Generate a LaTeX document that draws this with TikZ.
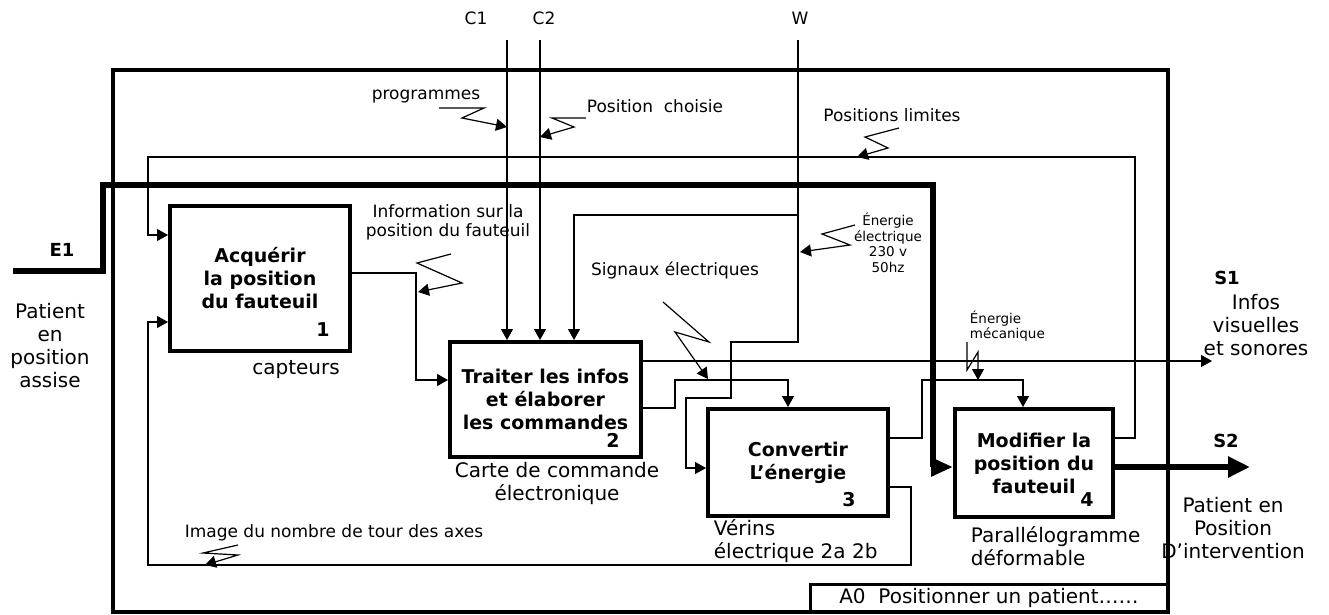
\documentclass[tikz,border=0pt]{standalone}
\usepackage{fontspec}
\setmainfont{DejaVu Sans}
\usetikzlibrary{arrows.meta}

\begin{document}
\begin{tikzpicture}[x=1pt, y=-1pt, line width=1.2pt, >={Triangle[length=11pt, width=12pt]},
    funcbox/.style={draw, line width=4pt, align=center, inner sep=0pt, font=\bfseries\fontsize{19}{23}\selectfont},
    txt/.style={font=\fontsize{17}{21}\selectfont, align=center},
    bigtxt/.style={font=\fontsize{20}{23}\selectfont, align=center},
    smalltxt/.style={font=\fontsize{13.5}{15.5}\selectfont, align=center},
    numtxt/.style={font=\bfseries\fontsize{19}{23}\selectfont},
    iotxt/.style={font=\bfseries\fontsize{18}{22}\selectfont}]

    \useasboundingbox (0,0) rectangle (1329,615);

    % --- cadre A0 ---
    \draw[line width=4pt] (113,70) rectangle (1168,612);
    \node[draw, line width=3pt, minimum width=358pt, minimum height=28pt, inner sep=0pt,
          font=\fontsize{20}{22}\selectfont] (a0) at (989,598) {A0\ \ Positionner un patient……};

    % --- fonctions ---
    \node[funcbox, minimum width=180pt, minimum height=145pt] (b1) at (260,278.5) {Acquérir\\la position\\du fauteuil};
    \node[funcbox, minimum width=191pt, minimum height=115pt] (b2) at (545.5,399.5) {Traiter les infos\\et élaborer\\les commandes};
    \node[funcbox, minimum width=180pt, minimum height=107pt] (b3) at (798,462.5) {Convertir\\L’énergie};
    \node[funcbox, minimum width=158pt, minimum height=108pt] (b4) at (1034,463) {Modifier la\\position du\\fauteuil};

    \node[numtxt] (n1) at (323,330) {1};
    \node[numtxt] (n2) at (613,440) {2};
    \node[numtxt] (n3) at (849,500) {3};
    \node[numtxt] (n4) at (1087,500) {4};

    % supports
    \node[bigtxt] (b1lab) at (296,370) {capteurs};
    \node[bigtxt] (b2lab) at (557,483) {Carte de commande\\électronique};
    \node[bigtxt, align=left, anchor=west] (b3lab) at (710,541) {Vérins\\électrique 2a 2b};
    \node[bigtxt, align=left, anchor=west] (b4lab) at (967,546) {Parallélogramme\\déformable};

    % --- entrée E1 (matière d'oeuvre) ---
    \coordinate (e1) at (13,271);
    \draw[line width=6pt, -{Triangle[length=22pt, width=18pt]}] (e1) -- (103,271) -- (103,185) -- (933,185) |- (b4.west |- 0,467);
    \node[iotxt] (e1lab) at (62,250) {E1};
    \node[bigtxt] (e1txt) at (50,346) {Patient\\en\\position\\assise};

    % --- sortie S2 ---
    \coordinate (s2) at (1250,467);
    \draw[line width=6pt, -{Triangle[length=22pt, width=20pt]}] (b4.east |- 0,467) -- (s2);
    \node[iotxt] (s2lab) at (1226,441) {S2};
    \node[bigtxt] (s2txt) at (1233,528) {Patient en\\Position\\D’intervention};

    % --- sortie S1 ---
    \coordinate (s1) at (1212,361);
    \draw[->] (b2.east |- 0,361) -- (s1);
    \node[iotxt] (s1lab) at (1227,278) {S1};
    \node[bigtxt] (s1txt) at (1256,325) {Infos\\visuelles\\et sonores};

    % --- contraintes C1, C2, W ---
    \coordinate (c1) at (507,40);
    \coordinate (c2) at (540,40);
    \coordinate (w) at (798,40);
    \node[txt] (c1lab) at (476,18) {C1};
    \node[txt] (c2lab) at (544,18) {C2};
    \node[txt] (wlab) at (800,18) {W};
    \draw[->] (c1) -- (c1 |- b2.north);
    \draw[->] (c2) -- (c2 |- b2.north);
    \draw[->] (w) -- (798,342) -- (731,342) -- (731,398) -- (686,398) |- (b3.west |- 0,468);
    \coordinate (wsplit) at (798,215);
    \draw[->] (wsplit) -| (b2.north -| 574,0);

    % --- liaisons entre fonctions ---
    \draw[->] (b1.east |- 0,273) -| (416,380) -- (b2.west |- 0,380);
    \draw[->] (b2.east |- 0,408) -- (675,408) -- (675,380) -| (b3.north -| 788,0);
    \draw[->] (b3.east |- 0,438) -- (922,438) -- (922,380) -| (b4.north -| 1023,0);

    % retours vers 1
    \draw[->] (b3.east |- 0,487) -- (911,487) -- (911,565) -- (148,565) |- (b1.west |- 0,322);
    \draw[->] (b4.east |- 0,438) -- (1135,438) -- (1135,157) -- (148,157) |- (b1.west |- 0,235);

    % --- flux d'information (éclairs) ---
    \node[txt] (proglab) at (426,97) {programmes};
    \draw[->] (439,108) -- (484,108) -- (462,118) -- (507,127);

    \node[txt] (poslab) at (655,106) {Position\ \ choisie};
    \draw[->] (586,118) -- (552,118) -- (574,127) -- (540,137);

    \node[txt] (limlab) at (892,115) {Positions limites};
    \draw[->] (899,128) -- (865,137) -- (888,148) -- (857,157);

    \node[txt, font=\fontsize{17}{19}\selectfont] (infolab) at (448,222) {Information sur la\\position du fauteuil};
    \draw[->] (451,254) -- (417,263) -- (462,283) -- (418,292);

    \node[txt] (siglab) at (675,270) {Signaux électriques};
    \draw[->] (663,302) -- (709,342) -- (675,332) -- (708,379);

    \node[smalltxt] (eeleclab) at (888,243) {Énergie\\électrique\\230 v\\50hz};
    \draw[->] (855,225) -- (822,234) -- (850,245) -- (800,252);

    \node[smalltxt, align=left, anchor=west] (emecalab) at (966,326) {Énergie\\mécanique};
    \draw[->] (967,342) -- (967,370) -- (978,352) -- (978,380);

    \node[txt] (imglab) at (334,533) {Image du nombre de tour des axes};
    \draw[->] (238,545) -- (203,553) -- (238,555) -- (205,565);

\end{tikzpicture}
\end{document}
